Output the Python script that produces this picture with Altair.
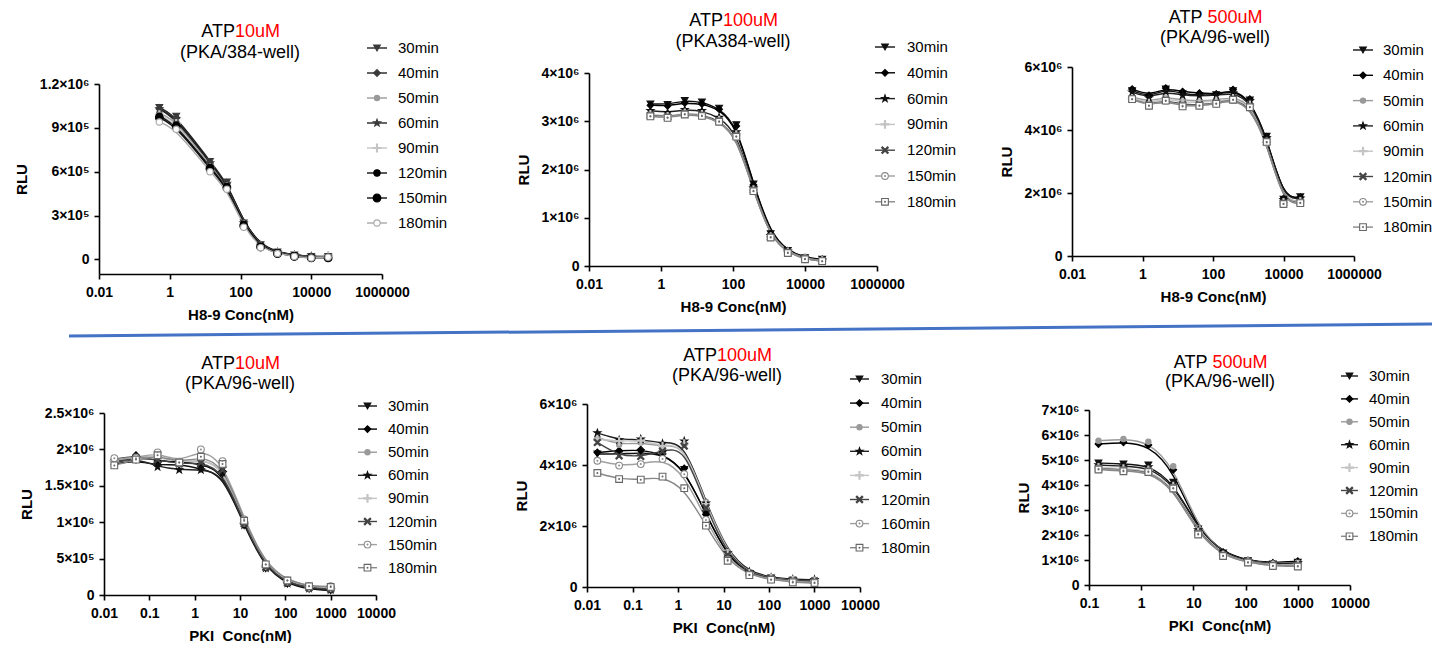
import altair as alt
import pandas as pd

FONT = "Liberation Sans"

# ---------------- concentrations (nM) ----------------
X_H89 = [0.508, 1.524, 4.572, 13.72, 41.15, 123.5, 370.4, 1111, 3333, 10000, 30000]
X_H89_P1 = [0.508, 1.524, 13.72, 41.15, 123.5, 370.4, 1111, 3333, 10000, 30000]
X_PKI = [0.0169, 0.0508, 0.152, 0.457, 1.372, 4.115, 12.35, 37.04, 111.1, 333.3, 1000]
X_PKI_P6 = [0.152, 0.457, 1.372, 4.115, 12.35, 37.04, 111.1, 333.3, 1000]

# ---------------- series names ----------------
SER_8 = ["30min", "40min", "50min", "60min", "90min", "120min", "150min", "180min"]
SER_P2 = ["30min", "40min", "60min", "90min", "120min", "150min", "180min"]
SER_P5 = ["30min", "40min", "50min", "60min", "90min", "120min", "160min", "180min"]

# ---------------- RLU values (x10^6) ----------------
P1_RLU = {
    "30min": [1.04, 0.98, 0.67, 0.53, 0.25, 0.10, 0.05, 0.03, 0.02, 0.02],
    "40min": [1.03, 0.97, 0.66, 0.52, 0.25, 0.10, 0.05, 0.03, 0.02, 0.015],
    "50min": [1.00, 0.95, 0.64, 0.51, 0.24, 0.09, 0.045, 0.025, 0.015, 0.015],
    "60min": [1.03, 0.96, 0.66, 0.52, 0.25, 0.095, 0.05, 0.03, 0.02, 0.02],
    "90min": [0.99, 0.93, 0.63, 0.50, 0.24, 0.09, 0.045, 0.025, 0.015, 0.025],
    "120min": [0.98, 0.92, 0.63, 0.50, 0.24, 0.09, 0.045, 0.025, 0.015, 0.015],
    "150min": [0.97, 0.91, 0.62, 0.49, 0.23, 0.085, 0.04, 0.02, 0.01, 0.01],
    "180min": [0.94, 0.89, 0.60, 0.48, 0.22, 0.08, 0.04, 0.02, 0.01, 0.015],
}
P2_RLU = {
    "30min": [3.36, 3.35, 3.43, 3.40, 3.27, 2.93, 1.70, 0.67, 0.32, 0.17, 0.14],
    "40min": [3.33, 3.32, 3.38, 3.36, 3.25, 2.90, 1.68, 0.66, 0.31, 0.17, 0.13],
    "60min": [3.22, 3.18, 3.24, 3.22, 3.08, 2.78, 1.62, 0.63, 0.30, 0.16, 0.12],
    "90min": [3.14, 3.10, 3.17, 3.14, 3.02, 2.72, 1.58, 0.61, 0.29, 0.15, 0.11],
    "120min": [3.12, 3.09, 3.15, 3.13, 3.01, 2.70, 1.57, 0.60, 0.28, 0.15, 0.10],
    "150min": [3.11, 3.08, 3.15, 3.12, 3.00, 2.69, 1.56, 0.60, 0.28, 0.15, 0.10],
    "180min": [3.10, 3.07, 3.14, 3.11, 2.99, 2.68, 1.55, 0.59, 0.27, 0.14, 0.10],
}
P3_RLU = {
    "30min": [5.25, 5.05, 5.30, 5.15, 5.10, 5.12, 5.25, 4.95, 3.80, 1.80, 1.88],
    "40min": [5.30, 5.10, 5.33, 5.22, 5.17, 5.14, 5.28, 4.98, 3.78, 1.82, 1.86],
    "50min": [5.05, 4.90, 5.05, 4.95, 4.92, 4.95, 5.05, 4.85, 3.65, 1.72, 1.75],
    "60min": [5.20, 5.02, 5.22, 5.10, 5.08, 5.10, 5.18, 4.92, 3.75, 1.78, 1.84],
    "90min": [5.00, 4.85, 5.00, 4.88, 4.88, 4.92, 5.00, 4.80, 3.62, 1.70, 1.73],
    "120min": [4.98, 4.80, 4.95, 4.80, 4.80, 4.86, 4.97, 4.75, 3.62, 1.68, 1.70],
    "150min": [4.98, 4.78, 4.93, 4.77, 4.78, 4.84, 4.96, 4.73, 3.60, 1.66, 1.69],
    "180min": [4.98, 4.77, 4.93, 4.75, 4.77, 4.83, 4.96, 4.72, 3.62, 1.65, 1.68],
}
P4_RLU = {
    "30min": [1.80, 1.85, 1.78, 1.80, 1.73, 1.66, 0.95, 0.36, 0.15, 0.08, 0.06],
    "40min": [1.86, 1.92, 1.84, 1.83, 1.80, 1.70, 0.97, 0.38, 0.16, 0.09, 0.07],
    "50min": [1.85, 1.90, 1.90, 1.84, 1.85, 1.78, 1.00, 0.40, 0.18, 0.10, 0.09],
    "60min": [1.82, 1.88, 1.76, 1.72, 1.72, 1.68, 0.96, 0.37, 0.16, 0.09, 0.07],
    "90min": [1.84, 1.87, 1.90, 1.82, 1.87, 1.76, 1.00, 0.40, 0.19, 0.11, 0.10],
    "120min": [1.83, 1.88, 1.86, 1.80, 1.82, 1.72, 0.98, 0.38, 0.17, 0.10, 0.08],
    "150min": [1.88, 1.88, 1.96, 1.82, 2.00, 1.84, 1.04, 0.42, 0.20, 0.12, 0.12],
    "180min": [1.78, 1.86, 1.92, 1.82, 1.90, 1.80, 1.02, 0.42, 0.20, 0.12, 0.11],
}
P5_RLU = {
    "30min": [4.36, 4.36, 4.40, 4.36, 3.85, 2.40, 0.98, 0.42, 0.30, 0.22, 0.18],
    "40min": [4.41, 4.47, 4.50, 4.36, 3.89, 2.38, 0.99, 0.42, 0.29, 0.22, 0.19],
    "50min": [4.91, 4.66, 4.74, 4.60, 4.68, 2.80, 1.15, 0.48, 0.30, 0.25, 0.23],
    "60min": [5.05, 4.82, 4.85, 4.70, 4.78, 2.75, 1.12, 0.50, 0.31, 0.25, 0.24],
    "90min": [4.85, 4.78, 4.80, 4.62, 4.70, 2.72, 1.10, 0.45, 0.28, 0.22, 0.20],
    "120min": [4.74, 4.30, 4.28, 4.45, 4.62, 2.60, 1.05, 0.45, 0.28, 0.22, 0.20],
    "160min": [4.14, 3.98, 4.03, 4.20, 3.70, 2.20, 0.90, 0.40, 0.25, 0.18, 0.15],
    "180min": [3.74, 3.54, 3.52, 3.62, 3.24, 2.01, 0.86, 0.39, 0.24, 0.15, 0.13],
}
P6_RLU = {
    "30min": [4.88, 4.84, 4.80, 4.11, 2.24, 1.28, 0.97, 0.84, 0.91],
    "40min": [5.64, 5.71, 5.60, 4.61, 2.17, 1.31, 0.97, 0.88, 0.95],
    "50min": [5.77, 5.84, 5.73, 4.75, 2.28, 1.25, 0.95, 0.85, 0.90],
    "60min": [4.80, 4.75, 4.72, 4.05, 2.20, 1.26, 0.95, 0.84, 0.88],
    "90min": [4.70, 4.65, 4.60, 3.95, 2.12, 1.20, 0.93, 0.80, 0.82],
    "120min": [4.66, 4.60, 4.56, 3.90, 2.08, 1.18, 0.92, 0.78, 0.78],
    "150min": [4.65, 4.58, 4.55, 3.88, 2.05, 1.17, 0.91, 0.77, 0.76],
    "180min": [4.62, 4.55, 4.52, 3.86, 2.02, 1.16, 0.90, 0.76, 0.74],
}

# ---------------- tick values / labels ----------------
XT_TOP = [0.01, 1, 100, 10000, 1000000]
XT_TOP_LAB = ["0.01", "1", "100", "10000", "1000000"]
XT_PKI = [0.01, 0.1, 1, 10, 100, 1000, 10000]
XT_PKI_LAB = ["0.01", "0.1", "1", "10", "100", "1000", "10000"]
XT_PKI6 = [0.1, 1, 10, 100, 1000, 10000]
XT_PKI6_LAB = ["0.1", "1", "10", "100", "1000", "10000"]

YT_P1 = [0, 0.3, 0.6, 0.9, 1.2]
YT_P1_LAB = ["0", "3×10⁵", "6×10⁵", "9×10⁵", "1.2×10⁶"]
YT_P2 = [0, 1, 2, 3, 4]
YT_P2_LAB = ["0", "1×10⁶", "2×10⁶", "3×10⁶", "4×10⁶"]
YT_P3 = [0, 2, 4, 6]
YT_P3_LAB = ["0", "2×10⁶", "4×10⁶", "6×10⁶"]
YT_P4 = [0, 0.5, 1, 1.5, 2, 2.5]
YT_P4_LAB = ["0", "5×10⁵", "1×10⁶", "1.5×10⁶", "2×10⁶", "2.5×10⁶"]
YT_P5 = [0, 2, 4, 6]
YT_P5_LAB = ["0", "2×10⁶", "4×10⁶", "6×10⁶"]
YT_P6 = [0, 1, 2, 3, 4, 5, 6, 7]
YT_P6_LAB = ["0", "1×10⁶", "2×10⁶", "3×10⁶", "4×10⁶", "5×10⁶", "6×10⁶", "7×10⁶"]

# ---------------- marker styles ----------------
STAR = ("M0,-1L0.24,-0.33L0.95,-0.31L0.38,0.12L0.59,0.81L0,0.4L-0.59,0.81"
        "L-0.38,0.12L-0.95,-0.31L-0.24,-0.33Z")
XMARK = ("M-1,-0.75L-0.75,-1L0,-0.25L0.75,-1L1,-0.75L0.25,0L1,0.75L0.75,1"
         "L0,0.25L-0.75,1L-1,0.75L-0.25,0Z")
PLUS = ("M-1,-0.14L-0.14,-0.14L-0.14,-1L0.14,-1L0.14,-0.14L1,-0.14L1,0.14"
        "L0.14,0.14L0.14,1L-0.14,1L-0.14,0.14L-1,0.14Z")


def sty(shape, fill, stroke, line, size, dot=False):
    return dict(shape=shape, fill=fill, stroke=stroke, line=line, size=size, dot=dot)


STYLE = {
    "30min": sty("triangle-down", "#111111", "#111111", "#111111", 45),
    "40min": sty("diamond", "#000000", "#000000", "#000000", 45),
    "50min": sty("circle", "#9a9a9a", "#9a9a9a", "#9a9a9a", 28),
    "60min": sty(STAR, "#111111", "#111111", "#222222", 55),
    "90min": sty(PLUS, "#c4c4c4", "#c4c4c4", "#c4c4c4", 60),
    "120min": sty(XMARK, "#444444", "#444444", "#444444", 45),
    "150min": sty("circle", "#ffffff", "#8a8a8a", "#a0a0a0", 45, True),
    "160min": sty("circle", "#ffffff", "#8a8a8a", "#a0a0a0", 45, True),
    "180min": sty("square", "#ffffff", "#666666", "#888888", 45, True),
}
STYLE_P1 = dict(STYLE)
STYLE_P1.update({
    "30min": sty("triangle-down", "#3a3a3a", "#3a3a3a", "#222222", 45),
    "40min": sty("diamond", "#3a3a3a", "#3a3a3a", "#222222", 45),
    "60min": sty(STAR, "#3a3a3a", "#3a3a3a", "#222222", 55),
    "120min": sty("circle", "#000000", "#000000", "#111111", 40),
    "150min": sty("circle", "#000000", "#000000", "#111111", 60),
    "180min": sty("circle", "#ffffff", "#a8a8a8", "#a8a8a8", 40),
})

# approximate Arial advance widths (em) for centring the two-coloured title
CHAR_W = {"A": 0.667, "T": 0.611, "P": 0.667, "u": 0.556, "M": 0.833}


def text_w(s, size):
    return sum(CHAR_W.get(c, 0.556) for c in s) * size


def label_expr(vals, labels):
    expr = "''"
    for v, lab in reversed(list(zip(vals, labels))):
        tol = abs(v) * 1e-6 + 1e-9
        expr = f"(abs(datum.value - {v!r}) < {tol!r} ? '{lab}' : {expr})"
    return expr


def axis_common():
    return dict(
        grid=False, domainColor="black", domainWidth=1.6, tickColor="black",
        tickWidth=1.6, tickSize=5, labelColor="black", labelFont=FONT,
        labelFontSize=14, labelFontWeight="bold", labelOverlap=False,
        labelFlush=False, titleFont=FONT, titleFontSize=15,
        titleFontWeight="bold", titleColor="black",
    )


def make_panel(cfg):
    rows = []
    for s in cfg["series"]:
        st = cfg["style"][s]
        for xv, yv in zip(cfg["x"], cfg["rlu"][s]):
            rows.append(dict(series=s, conc=xv, rlu=yv, **st))
    df = pd.DataFrame(rows)
    W, H = cfg["W"], cfg["H"]

    xscale = alt.Scale(type="log", domain=cfg["xdom"], nice=False)
    yscale = alt.Scale(domain=cfg["ydom"], nice=False, zero=False)
    xaxis = alt.Axis(values=cfg["xt"], labelExpr=label_expr(cfg["xt"], cfg["xtl"]),
                     title=cfg["xtitle"], labelPadding=6, titlePadding=8,
                     **axis_common())
    yaxis = alt.Axis(values=cfg["yt"], labelExpr=label_expr(cfg["yt"], cfg["ytl"]),
                     title="RLU", labelPadding=5, titlePadding=10, **axis_common())

    base = alt.Chart(df)
    X = alt.X("conc:Q", scale=xscale, axis=xaxis)
    lines = base.mark_line(interpolate="basis", strokeWidth=1.4).encode(
        x=X, y=alt.Y("rlu:Q", scale=yscale, axis=yaxis),
        detail="series:N", stroke=alt.Stroke("line:N", scale=None))
    Yp = alt.Y("rlu:Q", scale=yscale, axis=None)
    pts = base.mark_point(filled=True, opacity=1, strokeWidth=1.1).encode(
        x=X, y=Yp,
        shape=alt.Shape("shape:N", scale=None),
        fill=alt.Fill("fill:N", scale=None),
        stroke=alt.Stroke("stroke:N", scale=None),
        size=alt.Size("size:Q", scale=None))
    dots = base.transform_filter("datum.dot").mark_point(
        filled=True, opacity=1, size=4, shape="circle").encode(
        x=X, y=Yp, fill=alt.Fill("stroke:N", scale=None))

    # legend
    leg = cfg["leg"]
    ldf = pd.DataFrame([dict(series=s, idx=i, **cfg["style"][s])
                        for i, s in enumerate(cfg["series"])])
    a = -leg["y0"] / leg["s"]
    b = a + H / leg["s"]
    lscale = alt.Scale(domain=[a, b], reverse=True, nice=False, zero=False)
    LY = alt.Y("idx:Q", scale=lscale, axis=None)
    lb = alt.Chart(ldf)
    lrule = lb.mark_rule(strokeWidth=1.4).encode(
        x=alt.value(leg["lx0"]), x2=alt.value(leg["lx1"]), y=LY,
        stroke=alt.Stroke("line:N", scale=None))
    lpts = lb.mark_point(filled=True, opacity=1, strokeWidth=1.1).encode(
        x=alt.value((leg["lx0"] + leg["lx1"]) / 2), y=LY,
        shape=alt.Shape("shape:N", scale=None),
        fill=alt.Fill("fill:N", scale=None),
        stroke=alt.Stroke("stroke:N", scale=None),
        size=alt.Size("size:Q", scale=None))
    ldots = lb.transform_filter("datum.dot").mark_point(
        filled=True, opacity=1, size=4, shape="circle").encode(
        x=alt.value((leg["lx0"] + leg["lx1"]) / 2), y=LY,
        fill=alt.Fill("stroke:N", scale=None))
    ltxt = lb.mark_text(align="left", baseline="middle", font=FONT, fontSize=15,
                        color="black").encode(
        x=alt.value(leg["tx"]), y=LY, text="series:N")

    # two-coloured title
    tfs = 18
    wl = text_w(cfg["t_black"], tfs)
    wr = text_w(cfg["t_red"], tfs)
    gap = cfg["t_gap"]
    left = cfg["tcx"] - (wl + gap + wr) / 2
    tdf = pd.DataFrame({"a": [cfg["t_black"]], "b": [cfg["t_red"]], "c": [cfg["subtitle"]]})
    tb = alt.Chart(tdf)
    t1 = tb.mark_text(align="right", baseline="middle", font=FONT, fontSize=tfs,
                      color="black").encode(x=alt.value(left + wl), y=alt.value(cfg["ty1"]), text="a:N")
    t2 = tb.mark_text(align="left", baseline="middle", font=FONT, fontSize=tfs,
                      color="#ff0000").encode(x=alt.value(left + wl + gap), y=alt.value(cfg["ty1"]), text="b:N")
    t3 = tb.mark_text(align="center", baseline="middle", font=FONT, fontSize=tfs,
                      color="black").encode(x=alt.value(cfg["tcx"]), y=alt.value(cfg["ty2"]), text="c:N")

    layers = [lines, pts, dots, lrule, lpts, ldots, ltxt, t1, t2, t3]
    if cfg.get("sep"):
        sp = cfg["sep"]
        sep = alt.Chart(pd.DataFrame({"v": [0]})).mark_rule(
            color="#4472C4", strokeWidth=3).encode(
            x=alt.value(sp[0]), x2=alt.value(sp[1]), y=alt.value(sp[2]), y2=alt.value(sp[3]))
        layers.append(sep)
    return alt.layer(*layers).resolve_scale(y="independent").properties(width=W, height=H)


def spacer(w, h):
    return alt.Chart(pd.DataFrame({"v": [0]})).mark_point(opacity=0, size=1).encode(
        x=alt.value(1), y=alt.value(1)).properties(width=w, height=h)


H89 = "H8-9 Conc(nM)"
PKI = "PKI\u00a0 Conc(nM)"

p1 = make_panel(dict(x=X_H89_P1, rlu=P1_RLU, series=SER_8, style=STYLE_P1, W=283, H=190,
                     xdom=[0.01, 1000000], xt=XT_TOP, xtl=XT_TOP_LAB, ydom=[-0.1, 1.2],
                     yt=YT_P1, ytl=YT_P1_LAB, xtitle=H89,
                     leg=dict(y0=-36, s=25, lx0=268, lx1=288, tx=299),
                     t_black="ATP", t_red="10uM", t_gap=0, subtitle="(PKA/384-well)",
                     tcx=141, ty1=-52, ty2=-31))
p2 = make_panel(dict(x=X_H89, rlu=P2_RLU, series=SER_P2, style=STYLE, W=288, H=193,
                     xdom=[0.01, 1000000], xt=XT_TOP, xtl=XT_TOP_LAB, ydom=[0, 4],
                     yt=YT_P2, ytl=YT_P2_LAB, xtitle=H89,
                     leg=dict(y0=-26, s=25.8, lx0=286, lx1=306, tx=318),
                     t_black="ATP", t_red="100uM", t_gap=0, subtitle="(PKA384-well)",
                     tcx=144, ty1=-52, ty2=-31))
p3 = make_panel(dict(x=X_H89, rlu=P3_RLU, series=SER_8, style=STYLE, W=282, H=189,
                     xdom=[0.01, 1000000], xt=XT_TOP, xtl=XT_TOP_LAB, ydom=[0, 6],
                     yt=YT_P3, ytl=YT_P3_LAB, xtitle=H89,
                     leg=dict(y0=-17, s=25.3, lx0=281, lx1=301, tx=311),
                     t_black="ATP", t_red="500uM", t_gap=5, subtitle="(PKA/96-well)",
                     tcx=143, ty1=-49, ty2=-29))
p4 = make_panel(dict(x=X_PKI, rlu=P4_RLU, series=SER_8, style=STYLE, W=272, H=182,
                     xdom=[0.01, 10000], xt=XT_PKI, xtl=XT_PKI_LAB, ydom=[0, 2.5],
                     yt=YT_P4, ytl=YT_P4_LAB, xtitle=PKI,
                     leg=dict(y0=-7, s=23.1, lx0=254, lx1=273, tx=284),
                     t_black="ATP", t_red="10uM", t_gap=0, subtitle="(PKA/96-well)",
                     tcx=136, ty1=-49, ty2=-29, sep=(-35, 1328, -77, -89)))
p5 = make_panel(dict(x=X_PKI, rlu=P5_RLU, series=SER_P5, style=STYLE, W=273, H=183,
                     xdom=[0.01, 10000], xt=XT_PKI, xtl=XT_PKI_LAB, ydom=[0, 6],
                     yt=YT_P5, ytl=YT_P5_LAB, xtitle=PKI,
                     leg=dict(y0=-25, s=24.1, lx0=263, lx1=282, tx=294),
                     t_black="ATP", t_red="100uM", t_gap=0, subtitle="(PKA/96-well)",
                     tcx=140, ty1=-48, ty2=-28))
p6 = make_panel(dict(x=X_PKI_P6, rlu=P6_RLU, series=SER_8, style=STYLE, W=261, H=175,
                     xdom=[0.1, 10000], xt=XT_PKI6, xtl=XT_PKI6_LAB, ydom=[0, 7],
                     yt=YT_P6, ytl=YT_P6_LAB, xtitle=PKI,
                     leg=dict(y0=-34, s=22.9, lx0=252, lx1=269, tx=280),
                     t_black="ATP", t_red="500uM", t_gap=5, subtitle="(PKA/96-well)",
                     tcx=131, ty1=-47, ty2=-28))

# each panel is offset inside its own cell (offsets from the page's top-left corner)
FL = dict(spacing=0, bounds="flush")
PLACEMENT = [(p1, 91, 76), (p2, 581, 65), (p3, 1064, 59),
             (p4, 96, 405), (p5, 579, 396), (p6, 1081, 402)]
cells = [alt.vconcat(spacer(1, dy), alt.hconcat(spacer(dx, 1), p, **FL), **FL)
         for p, dx, dy in PLACEMENT]

chart = alt.hconcat(*cells, **FL).properties(
    padding={"left": 0, "top": 0, "right": 0, "bottom": 0}
).configure(font=FONT, background="white").configure_view(stroke="transparent", strokeWidth=0)

chart.save("out.html", embed_options={"renderer": "svg", "actions": False})
